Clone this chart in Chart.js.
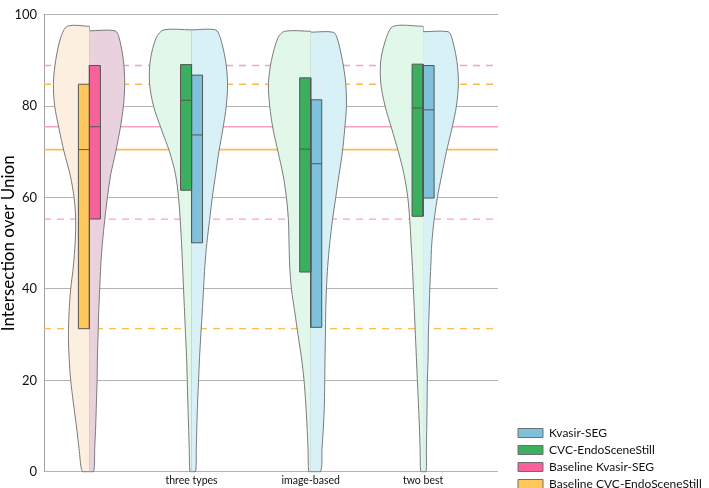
<!DOCTYPE html>
<html><head><meta charset="utf-8">
<script src="https://cdn.jsdelivr.net/npm/chart.js@4/dist/chart.umd.min.js"></script>
<style>html,body{margin:0;padding:0;background:#fff;}#wrap{width:709px;height:488px;position:relative;}</style>
</head><body><div id="wrap"><canvas id="c"></canvas></div>
<script>
// ---- categories / axis ----
const categories = ['', 'three types', 'image-based', 'two best'];
const categoryPos = [0.4, 1.3, 2.35, 3.34];
const yTicks = [0, 20, 40, 60, 80, 100];
const legendLabels = ['Kvasir-SEG', 'CVC-EndoSceneStill', 'Baseline Kvasir-SEG', 'Baseline CVC-EndoSceneStill'];

// ---- density levels (IoU values) ----
const levels = [0,5,10,15,20,25,30,35,40,45,50,55,60,65,70,75,80,85,90,95];

// ---- baseline (first position) ----
const baselineCvcBox = [31.3, 70.5, 84.8];      // q1, median, q3
const baselineKvasirBox = [55.3, 75.5, 88.9];
const baselineCvcTop = 97.5;
const baselineKvasirTop = 96.5;
const baselineCvcDensity = [7,10.3,13,16,18.7,20.3,21,20.3,18.7,16,14.3,13.7,15.3,19.3,25.3,30.3,34.7,36,33.7,28.7,22];
const baselineKvasirDensity = [4.3,5.3,6.3,7,7.7,8,8.7,9.3,10.3,11.3,13,15.3,18,21.3,26.3,30.7,34,35.3,34,29.7,25.7];

// ---- methods: three types, image-based, two best ----
const cvcQ1 = [61.6, 43.7, 55.9];
const cvcMedian = [81.3, 70.6, 79.6];
const cvcQ3 = [89.1, 86.2, 89.2];
const kvasirQ1 = [50.1, 31.6, 59.9];
const kvasirMedian = [73.7, 67.4, 79.2];
const kvasirQ3 = [86.8, 81.4, 88.9];
const cvcTop = [96.7, 96.4, 97.5];
const kvasirTop = [96.7, 96.2, 96.3];
const cvcDensity = [
  [1.7,2.3,3,3.7,4.3,5,6,7,8,9,10,11.3,13,16,22,30.3,38,42,41.3,35.3,27.7],
  [2,2.7,3.7,5,6.7,9.3,12.7,16,19.3,21,21.7,22.3,24.3,27.7,32.7,37.7,41,42.3,39.3,32.7,26],
  [2.3,3,3.7,4.7,5.7,6.7,7.7,8.7,9.7,10.7,12,13.3,15.3,19,24.7,31.3,38,42.3,42.3,36.7,29.7]
];
const kvasirDensity = [
  [4,4.7,5.3,6,7,8,9.3,10.7,12,13.3,15.3,18,20.7,24,27.3,31.3,34.7,36,34,28.7,24],
  [9.7,11.3,12.7,13.7,14,14.3,14.7,15,15.7,17,19,21.7,25,28.3,31.7,34,35.7,35,31.7,26.3,22.3],
  [3,3.3,3.7,4,4.3,5,5.3,6,6.7,7.7,8.7,11,14.3,18.7,23.3,28.7,33.3,35.3,33.7,28.7,25]
];

// ---- styling ----
const densityScale = 1 / 113.5;
const boxW = 0.097;
const X_MIN = 0, X_MAX = 4;
const LEGEND_WIDTH = 196, LEGEND_GAP = 15, LEGEND_SHIFT = 7;
const C = {
  cvcViolin: '#e1f7ea', kvasirViolin: '#d8f1f7', bCvcViolin: '#fcefe0', bKvasirViolin: '#e9d1dd',
  cvcBox: '#3aaf5e', kvasirBox: '#7fc1db', bCvcBox: '#ffc65a', bKvasirBox: '#f5639a',
  bCvcLine: '#fabb55', bKvasirLine: '#f7a0bf', outline: '#7a7a7a', boxLine: '#555555'
};

const datasets = [];
function halfViolin(center, side, density, top, color) {
  const pts = [{x: center, y: top}];
  pts.push({x: center + side * density[density.length - 1] * densityScale, y: top});
  for (let i = levels.length - 1; i >= 0; i--) pts.push({x: center + side * density[i] * densityScale, y: levels[i]});
  pts.push({x: center, y: 0});
  datasets.push({data: pts, backgroundColor: color, borderColor: C.outline, borderWidth: 1,
    fill: 'shape', tension: 0.3, pointRadius: 0, order: 3, clip: false});
}
function centerLine(center, top) {
  datasets.push({data: [{x: center, y: 0}, {x: center, y: top}], borderColor: C.outline, borderWidth: 1,
    fill: false, pointRadius: 0, order: 3, clip: false});
}
function box(center, side, q1, med, q3, color) {
  const x0 = center, x1 = center + side * boxW;
  datasets.push({data: [{x: x1, y: q1}, {x: x1, y: q3}, {x: x0, y: q3}, {x: x0, y: q1}, {x: x1, y: q1}],
    backgroundColor: color, borderColor: C.boxLine, borderWidth: 1, fill: 'shape', tension: 0, pointRadius: 0, order: 2, clip: false});
  datasets.push({data: [{x: x1, y: med}, {x: x0, y: med}], borderColor: C.boxLine, borderWidth: 1,
    fill: false, tension: 0, pointRadius: 0, order: 1});
}
function refLine(v, color, dashed) {
  datasets.push({data: [{x: X_MIN, y: v}, {x: X_MAX, y: v}], borderColor: color, borderWidth: dashed ? 1.3 : 1.6,
    borderDash: dashed ? [7, 6] : [], fill: false, pointRadius: 0, order: 4});
}

// baseline reference lines (quartiles dashed, median solid)
refLine(baselineKvasirBox[0], C.bKvasirLine, true);
refLine(baselineKvasirBox[1], C.bKvasirLine, false);
refLine(baselineKvasirBox[2], C.bKvasirLine, true);
refLine(baselineCvcBox[0], C.bCvcLine, true);
refLine(baselineCvcBox[1], C.bCvcLine, false);
refLine(baselineCvcBox[2], C.bCvcLine, true);

// baseline
halfViolin(categoryPos[0], -1, baselineCvcDensity, baselineCvcTop, C.bCvcViolin);
halfViolin(categoryPos[0], 1, baselineKvasirDensity, baselineKvasirTop, C.bKvasirViolin);
centerLine(categoryPos[0], Math.max(baselineCvcTop, baselineKvasirTop));
box(categoryPos[0], -1, baselineCvcBox[0], baselineCvcBox[1], baselineCvcBox[2], C.bCvcBox);
box(categoryPos[0], 1, baselineKvasirBox[0], baselineKvasirBox[1], baselineKvasirBox[2], C.bKvasirBox);

// methods
for (let i = 0; i < 3; i++) {
  const c = categoryPos[i + 1];
  halfViolin(c, -1, cvcDensity[i], cvcTop[i], C.cvcViolin);
  halfViolin(c, 1, kvasirDensity[i], kvasirTop[i], C.kvasirViolin);
  centerLine(c, Math.max(cvcTop[i], kvasirTop[i]));
  box(c, -1, cvcQ1[i], cvcMedian[i], cvcQ3[i], C.cvcBox);
  box(c, 1, kvasirQ1[i], kvasirMedian[i], kvasirQ3[i], C.kvasirBox);
}

const legendFill = [C.kvasirBox, C.cvcBox, C.bKvasirBox, C.bCvcBox];

const chart = new Chart(document.getElementById('c'), {
  type: 'line',
  data: {datasets},
  plugins: [{id: 'legendShift', afterLayout(ch) { if (ch.legend) { ch.legend.top += LEGEND_SHIFT; ch.legend.bottom += LEGEND_SHIFT; } }}],
  options: {
    responsive: true, maintainAspectRatio: false, animation: false, devicePixelRatio: 1,
    layout: {padding: 0},
    events: [],
    plugins: {
      tooltip: {enabled: false},
      legend: {
        position: 'right', align: 'end', onClick: null,
        labels: {
          boxWidth: 25, boxHeight: 9, padding: 5, color: '#111',
          font: {family: 'Lato', size: 12},
          generateLabels: () => legendLabels.map((t, i) => ({text: t, fillStyle: legendFill[i], strokeStyle: '#6e6e6e',
            lineWidth: 1, hidden: false, index: i, fontColor: '#111'}))
        }
      }
    },
    scales: {
      x: {
        type: 'linear', min: X_MIN, max: X_MAX,
        grid: {display: false, drawTicks: false}, border: {display: false},
        afterBuildTicks: s => { s.ticks = categoryPos.map(v => ({value: v})); },
        ticks: {callback: (v, i) => categories[i], font: {family: 'Lato', size: 10.5}, color: '#111', padding: 3, autoSkip: false, maxRotation: 0},
        afterFit: s => { s.height = 16.3; }
      },
      y: {
        min: 0, max: 100,
        afterBuildTicks: s => { s.ticks = yTicks.map(v => ({value: v})); },
        ticks: {padding: 7, font: {family: 'Lato', size: 13}, color: '#111'},
        grid: {color: '#b3b3b3', lineWidth: 1, drawTicks: false},
        border: {color: '#a0a0a0'},
        title: {display: true, text: 'Intersection over Union', font: {family: 'Lato', size: 17}, color: '#000', padding: {top: -2, bottom: 0}},
        afterFit: s => { s.width = 44; }
      },
      yR: {
        position: 'right', display: true, grid: {display: false}, border: {display: false}, ticks: {display: false},
        afterFit: s => { s.width = LEGEND_GAP; }
      }
    }
  }
});
const lg = chart.legend;
const baseFit = lg.fit.bind(lg);
lg.fit = function () { baseFit(); this.width = LEGEND_WIDTH; };
chart.update();
</script></body></html>
